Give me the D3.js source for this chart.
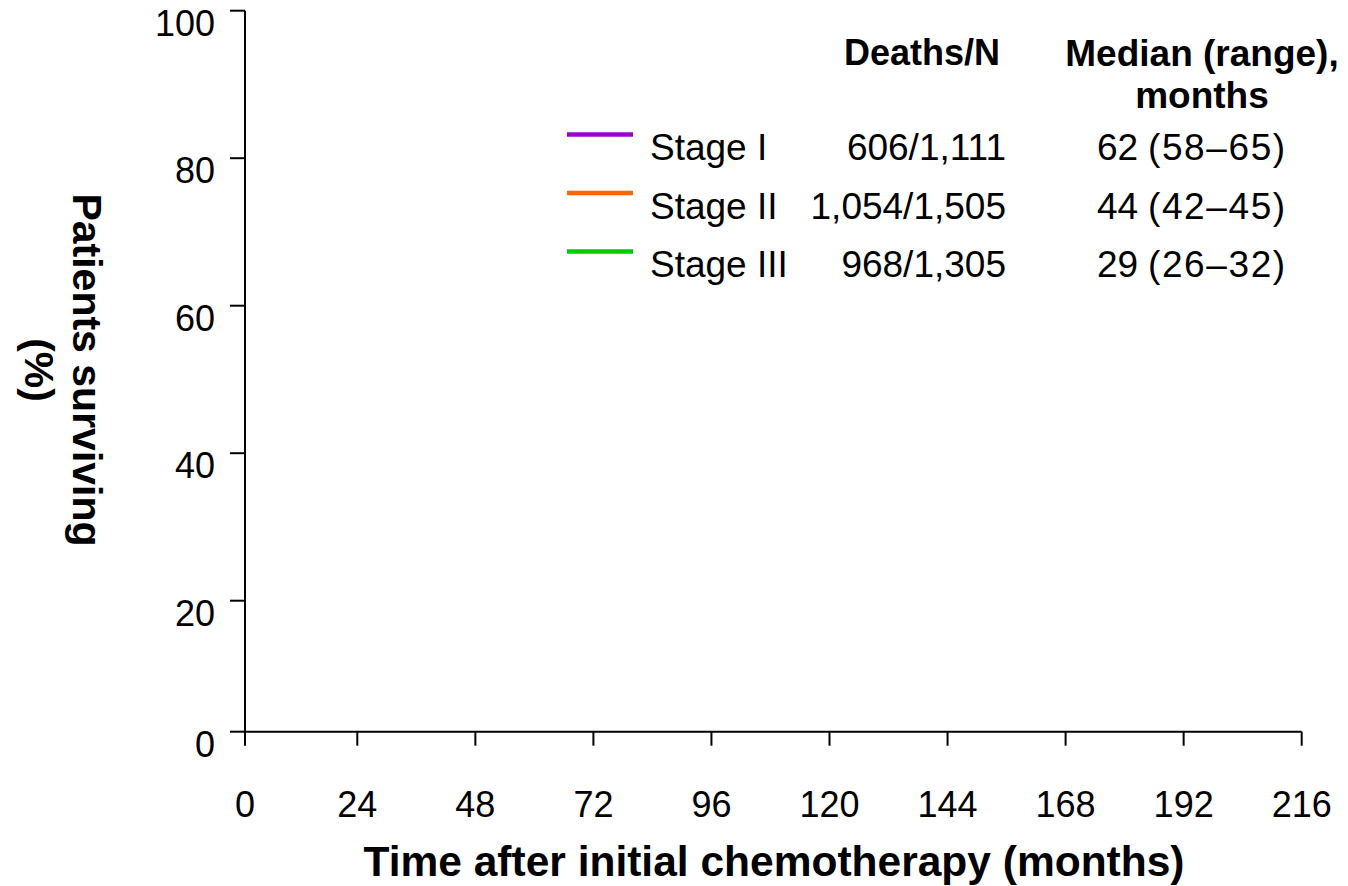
<!DOCTYPE html>
<html>
<head>
<meta charset="utf-8">
<script src="https://cdn.jsdelivr.net/npm/d3@7"></script>
<style>
  html, body { margin: 0; padding: 0; background: #fff; }
  svg { display: block; font-family: "Liberation Sans", Arial, Helvetica, sans-serif; }
</style>
</head>
<body>
<svg id="chart" width="1348" height="886"></svg>
<script>
// Overall survival by stage — axes and legend table
const stages = ["Stage I", "Stage II", "Stage III"];
const deathsN = ["606/1,111", "1,054/1,505", "968/1,305"];
const medianMonths = [62, 44, 29];
const medianRanges = ["(58–65)", "(42–45)", "(26–32)"];
const stageColors = ["#9900cc", "#ff6600", "#00cc00"];

const xTicks = [0, 24, 48, 72, 96, 120, 144, 168, 192, 216];
const yTicks = [0, 20, 40, 60, 80, 100];

const svg = d3.select("#chart");

// first interval of each axis is drawn slightly compressed
const x = d3.scaleLinear().domain([0, 24, 216]).range([245, 357.3, 1301.7]);
const y = d3.scaleLinear().domain([0, 20, 100]).range([731.7, 600.7, 10.7]);

const tickFont = 36;
const bodyFont = 37;

// y axis
const yAxis = svg.append("g")
  .attr("transform", "translate(245,0)")
  .call(d3.axisLeft(y).tickValues(yTicks).tickSize(15).tickSizeOuter(0).tickPadding(15).offset(0));

// x axis
const xAxis = svg.append("g")
  .attr("transform", `translate(0,${y(0)})`)
  .call(d3.axisBottom(x).tickValues(xTicks).tickSize(14).tickSizeOuter(0).offset(0));

[yAxis, xAxis].forEach(g => {
  g.selectAll("path.domain, .tick line").attr("stroke", "#000").attr("stroke-width", 2);
  g.selectAll(".tick text")
    .attr("fill", "#000")
    .style("font-size", tickFont + "px")
    .style("font-family", "'Liberation Sans', Arial, sans-serif");
});
yAxis.selectAll(".tick text").attr("dy", "0.7em");
xAxis.selectAll(".tick text").attr("y", 60).attr("dy", "0.71em");

// axis titles
svg.append("text")
  .attr("x", 774).attr("y", 876)
  .attr("text-anchor", "middle")
  .style("font-weight", "bold").style("font-size", "42.5px")
  .text("Time after initial chemotherapy (months)");

const yTitle = svg.append("text")
  .attr("transform", "translate(73,370) rotate(90)")
  .attr("text-anchor", "middle")
  .style("font-weight", "bold").style("font-size", "41px");
yTitle.append("tspan").attr("x", 0).attr("y", 0).text("Patients surviving");
yTitle.append("tspan").attr("x", 0).attr("y", 48).text("(%)");

// legend table
const legend = svg.append("g");

legend.append("text")
  .attr("x", 1000).attr("y", 65)
  .attr("text-anchor", "end")
  .style("font-weight", "bold").style("font-size", "36px")
  .text("Deaths/N");

const medHead = legend.append("text")
  .attr("text-anchor", "middle")
  .style("font-weight", "bold").style("font-size", "37px");
medHead.append("tspan").attr("x", 1202).attr("y", 66).text("Median (range),");
medHead.append("tspan").attr("x", 1202).attr("y", 108).text("months");

const rowY = d3.scalePoint().domain(stages).range([160, 277]);

const rows = legend.selectAll("g.row")
  .data(stages.map((s, i) => ({
    stage: s, deaths: deathsN[i], median: medianMonths[i], range: medianRanges[i], color: stageColors[i]
  })))
  .join("g")
  .attr("class", "row")
  .attr("transform", d => `translate(0,${rowY(d.stage)})`);

rows.append("line")
  .attr("x1", 567).attr("x2", 633)
  .attr("y1", -25.5).attr("y2", -25.5)
  .attr("stroke", d => d.color)
  .attr("stroke-width", 4.5);

rows.append("text")
  .attr("x", 650).attr("y", 0)
  .style("font-size", bodyFont + "px")
  .text(d => d.stage);

rows.append("text")
  .attr("x", 1006).attr("y", 0)
  .attr("text-anchor", "end")
  .style("font-size", bodyFont + "px")
  .text(d => d.deaths);

rows.append("text")
  .attr("x", 1097).attr("y", 0)
  .style("font-size", bodyFont + "px")
  .text(d => d.median);

rows.append("text")
  .attr("x", 1148).attr("y", 0)
  .style("font-size", bodyFont + "px")
  .style("letter-spacing", "1.6px")
  .text(d => d.range);
</script>
</body>
</html>
